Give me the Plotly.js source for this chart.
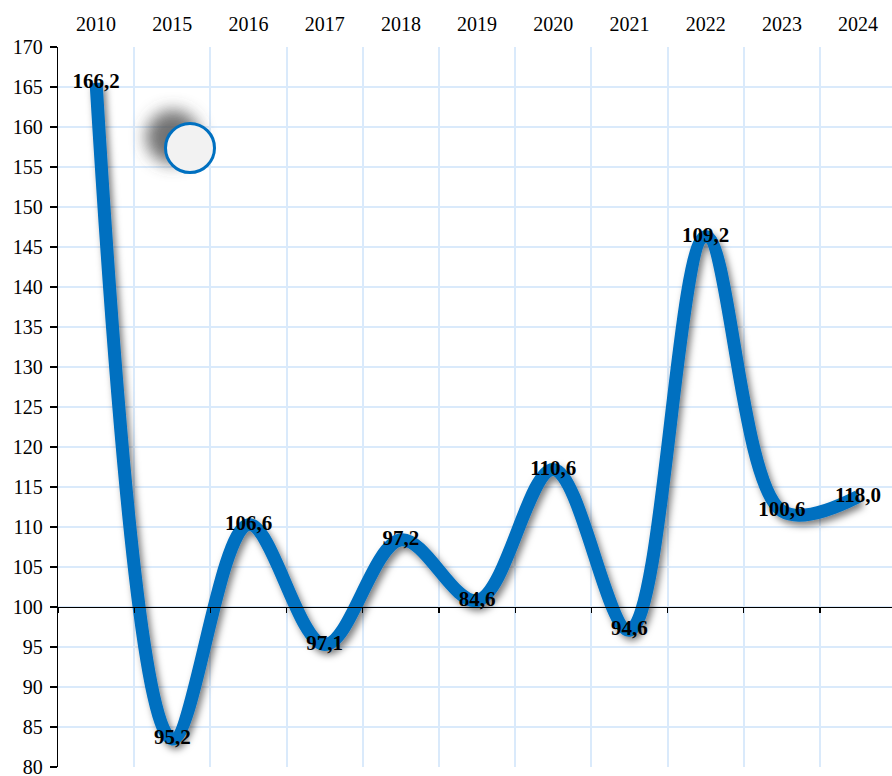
<!DOCTYPE html>
<html>
<head>
<meta charset="utf-8">
<script src="https://cdn.plot.ly/plotly-3.0.1.min.js"></script>
<style>html,body{margin:0;padding:0;background:#fff;}#chart{width:892px;height:776px;}</style>
</head>
<body>
<div id="chart"></div>
<script>
const years = ['2010','2015','2016','2017','2018','2019','2020','2021','2022','2023','2024'];
const values = [165.5, 83.5, 110.3, 95.3, 108.4, 100.8, 117.2, 97.1, 146.3, 112.0, 113.8];
const labels = ['166,2','95,2','106,6','97,1','97,2','84,6','110,6','94,6','109,2','100,6','118,0'];
const yTicks = [80,85,90,95,100,105,110,115,120,125,130,135,140,145,150,155,160,165,170];

const lineColor = '#0070C0';
const gridColor = '#DAEAFB';
const serif = 'Liberation Serif, Times New Roman, serif';

const trace = {
  x: years, y: values, text: labels,
  type: 'scatter', mode: 'lines+text',
  line: {color: lineColor, width: 13, shape: 'spline', smoothing: 1},
  textposition: 'middle center',
  textfont: {family: serif, size: 21, color: '#000', weight: 'bold'},
  cliponaxis: false,
  hoverinfo: 'skip', showlegend: false
};

const layout = {
  width: 892, height: 776,
  margin: {l: 58, r: 0, t: 47, b: 9},
  paper_bgcolor: '#fff', plot_bgcolor: '#fff',
  showlegend: false,
  font: {family: serif, size: 20, color: '#000'},
  xaxis: {
    type: 'category', categoryarray: years, side: 'top',
    range: [-0.5, 10.445], tickson: 'boundaries',
    showgrid: true, gridcolor: gridColor, gridwidth: 2,
    ticks: '', showline: false, zeroline: false,
    ticklabelstandoff: 11,
    tickfont: {family: serif, size: 20, color: '#000'}
  },
  xaxis2: {
    overlaying: 'x', anchor: 'free', position: (100-80)/(170-80), side: 'bottom',
    range: [-0.5, 10.445], tickmode: 'linear', tick0: 0.5, dtick: 1,
    showline: true, linecolor: '#000', linewidth: 1.3,
    ticks: 'outside', ticklen: 5, tickcolor: '#000', tickwidth: 1.3,
    showticklabels: false, showgrid: false, zeroline: false
  },
  yaxis: {
    range: [80, 170], tickvals: yTicks, ticktext: yTicks.map(String),
    showgrid: true, gridcolor: gridColor, gridwidth: 2,
    showline: true, linecolor: '#000', linewidth: 1.3,
    ticks: 'outside', ticklen: 7, tickcolor: '#000', tickwidth: 1.3,
    zeroline: false, ticklabeloverflow: 'allow', ticklabelstandoff: 3,
    tickfont: {family: serif, size: 20, color: '#000'}
  },
  shapes: [
    {type: 'circle', xref: 'paper', yref: 'paper', xsizemode: 'pixel', ysizemode: 'pixel',
     xanchor: (173-58)/834, yanchor: 1-(137-47)/720, x0: -27, x1: 27, y0: -27, y1: 27,
     fillcolor: 'rgba(80,80,80,0.8)', line: {width: 0}, layer: 'above'},
    {type: 'circle', xref: 'paper', yref: 'paper', xsizemode: 'pixel', ysizemode: 'pixel',
     xanchor: (190-58)/834, yanchor: 1-(148-47)/720, x0: -24.5, x1: 24.5, y0: -24.5, y1: 24.5,
     fillcolor: '#F2F2F2', line: {color: lineColor, width: 3}, layer: 'above'}
  ]
};

Plotly.newPlot('chart', [trace, {x:[0], y:[0], xaxis:'x2', yaxis:'y', visible:false, showlegend:false}], layout, {staticPlot: true, displayModeBar: false}).then(function(){
  const svg = document.querySelector('#chart .main-svg');
  const NS = 'http://www.w3.org/2000/svg';
  let defs = svg.querySelector('defs');
  if (!defs) { defs = document.createElementNS(NS, 'defs'); svg.insertBefore(defs, svg.firstChild); }
  const f1 = document.createElementNS(NS, 'filter');
  f1.setAttribute('id', 'lineShadow');
  f1.setAttribute('x', '-20%'); f1.setAttribute('y', '-20%');
  f1.setAttribute('width', '140%'); f1.setAttribute('height', '140%');
  const ds = document.createElementNS(NS, 'feDropShadow');
  ds.setAttribute('dx', '3'); ds.setAttribute('dy', '4'); ds.setAttribute('stdDeviation', '3.5');
  ds.setAttribute('flood-color', '#000'); ds.setAttribute('flood-opacity', '0.5');
  f1.appendChild(ds); defs.appendChild(f1);
  const f2 = document.createElementNS(NS, 'filter');
  f2.setAttribute('id', 'blurShadow');
  f2.setAttribute('x', '-60%'); f2.setAttribute('y', '-60%');
  f2.setAttribute('width', '220%'); f2.setAttribute('height', '220%');
  const gb = document.createElementNS(NS, 'feGaussianBlur');
  gb.setAttribute('stdDeviation', '8');
  f2.appendChild(gb); defs.appendChild(f2);
  document.querySelectorAll('#chart .scatterlayer .js-line').forEach(p => p.setAttribute('filter', 'url(#lineShadow)'));
  const shp = document.querySelectorAll('#chart .shapelayer path');
  if (shp.length) shp[0].setAttribute('filter', 'url(#blurShadow)');
});
</script>
</body>
</html>
